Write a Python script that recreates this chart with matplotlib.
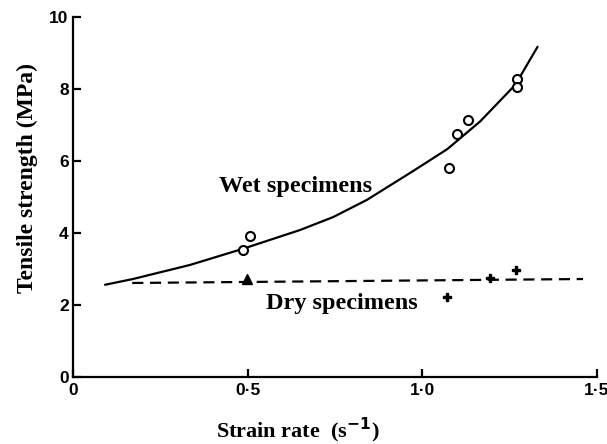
import matplotlib
matplotlib.use("Agg")
import matplotlib.pyplot as plt

# Wet specimens: measured points
wet_x = [0.487, 0.507, 1.077, 1.10, 1.13, 1.27, 1.27]
wet_y = [3.53, 3.92, 5.80, 6.75, 7.14, 8.28, 8.05]

# Wet specimens: fitted curve
wet_curve_x = [0.092, 0.172, 0.335, 0.487, 0.650, 0.745, 0.842, 0.880,
               0.974, 1.072, 1.166, 1.266, 1.33]
wet_curve_y = [2.56, 2.72, 3.11, 3.56, 4.08, 4.44, 4.92, 5.15,
               5.72, 6.33, 7.10, 8.11, 9.17]

# Dry specimens: measured points
dry_tri_x = [0.498]
dry_tri_y = [2.72]
dry_plus_x = [1.07, 1.195, 1.267]
dry_plus_y = [2.22, 2.75, 2.97]

# Dry specimens: fitted line
dry_line_x = [0.17, 1.46]
dry_line_y = [2.61, 2.72]

xticks = [0, 0.5, 1.0, 1.5]
xticklabels = ["0", "0·5", "1·0", "1·5"]
yticks = [0, 2, 4, 6, 8, 10]
yticklabels = ["0", "2", "4", "6", "8", "10"]

serif = "Liberation Serif"
sans = "Liberation Sans"

fig = plt.figure(figsize=(6.07, 4.44), dpi=100)
ax = fig.add_axes([0.120, 0.151, 0.8635, 0.811])

ax.plot(wet_curve_x, wet_curve_y, color="black", lw=1.6,
        solid_capstyle="round", solid_joinstyle="round")
ax.plot(dry_line_x, dry_line_y, color="black", lw=1.6, dashes=(5, 3))
ax.plot(wet_x, wet_y, linestyle="none", marker="o", markersize=6.5,
        markerfacecolor="white", markeredgecolor="black", markeredgewidth=1.5)
ax.plot(dry_tri_x, dry_tri_y, linestyle="none", marker="^", markersize=7,
        color="black")
ax.plot(dry_plus_x, dry_plus_y, linestyle="none", marker="P", markersize=6,
        color="black")

ax.text(0.636, 5.30, "Wet specimens", fontsize=17.5, fontweight="bold",
        family=serif, ha="center", va="center")
ax.text(0.77, 2.05, "Dry specimens", fontsize=17.5, fontweight="bold",
        family=serif, ha="center", va="center")

ax.set_xlim(0, 1.5)
ax.set_ylim(0, 10)
ax.spines["top"].set_visible(False)
ax.spines["right"].set_visible(False)
for s in ("left", "bottom"):
    ax.spines[s].set_linewidth(1.6)

ax.set_xticks(xticks)
ax.set_xticklabels(xticklabels)
ax.set_yticks(yticks)
ax.set_yticklabels(yticklabels)
ax.tick_params(direction="in", length=6, width=1.6, labelsize=12.5, pad=4)
ax.tick_params(axis="y", pad=3)
for lab in ax.get_xticklabels() + ax.get_yticklabels():
    lab.set_family(sans)
    lab.set_fontweight("bold")

fig.text(0.045, 0.60, "Tensile strength (MPa)", rotation=90, fontsize=17,
         fontweight="bold", family=serif, ha="center", va="center")
fig.text(0.49, 0.03, "Strain rate  (s$^{\\mathbf{-1}}$)", fontsize=16,
         fontweight="bold", family=serif, ha="center", va="center")

fig.savefig("out.png", dpi=100)
